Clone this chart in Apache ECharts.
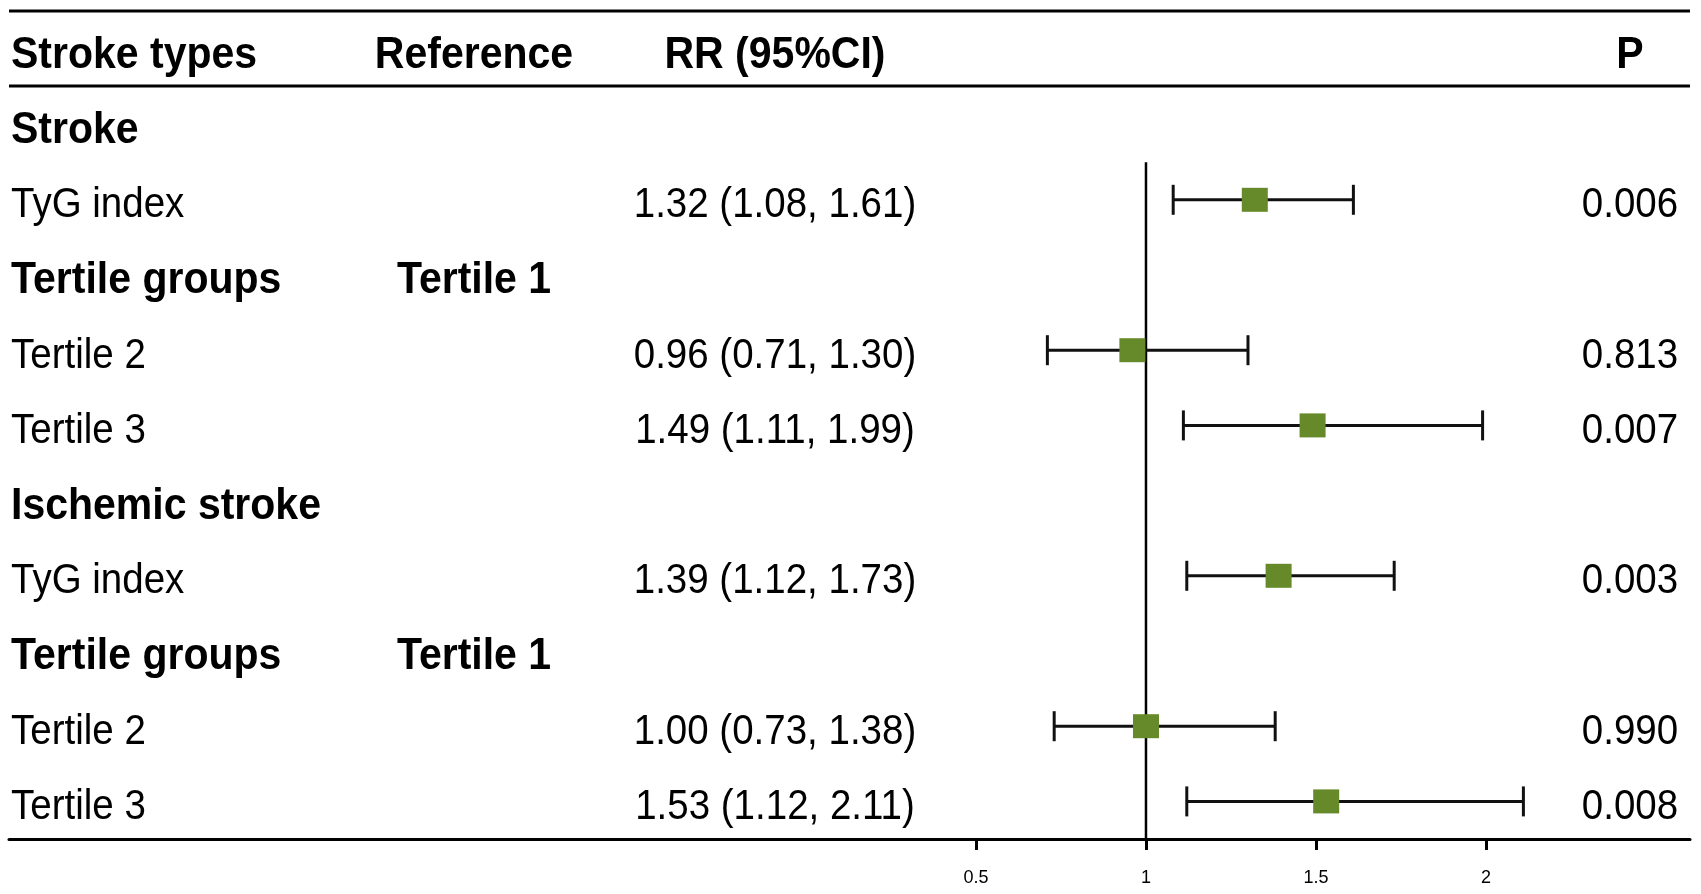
<!DOCTYPE html>
<html>
<head>
<meta charset="utf-8">
<script src="https://cdn.jsdelivr.net/npm/echarts@6/dist/echarts.min.js"></script>
<style>
  html, body { margin: 0; padding: 0; background: #fff; }
  #main { width: 1701px; height: 894px; }
</style>
</head>
<body>
<div id="main"></div>
<script>
// table columns
var headers = ['Stroke types', 'Reference', 'RR (95%CI)', 'P'];
var labels = ['Stroke', 'TyG index', 'Tertile groups', 'Tertile 2', 'Tertile 3',
              'Ischemic stroke', 'TyG index', 'Tertile groups', 'Tertile 2', 'Tertile 3'];
var boldRows = [0, 2, 5, 7];
var reference = ['', '', 'Tertile 1', '', '', '', '', 'Tertile 1', '', ''];
var rr    = [null, 1.32, null, 0.96, 1.49, null, 1.39, null, 1.00, 1.53];
var lower = [null, 1.08, null, 0.71, 1.11, null, 1.12, null, 0.73, 1.12];
var upper = [null, 1.61, null, 1.30, 1.99, null, 1.73, null, 1.38, 2.11];
var pvals = ['', '0.006', '', '0.813', '0.007', '', '0.003', '', '0.990', '0.008'];
var tickValues = [0.5, 1, 1.5, 2];
var refValue = 1;

var FONT = 'Liberation Sans, Arial, sans-serif';
var colX = [11, 474, 775, 1630];
var colAlign = ['left', 'center', 'center', 'center'];

function rrText(i) {
    if (rr[i] == null) return '';
    return rr[i].toFixed(2) + ' (' + lower[i].toFixed(2) + ', ' + upper[i].toFixed(2) + ')';
}

function textEl(x, y, str, bold, align) {
    // the source figure's text is a little taller than plain Arial
    return {
        type: 'text', x: x, y: y + 6, scaleY: 1.08, silent: true,
        style: {
            text: str, fill: '#000',
            fontFamily: FONT,
            fontSize: bold ? 41 : 38.5,
            fontWeight: bold ? 'bold' : 'normal',
            align: align, verticalAlign: 'middle'
        }
    };
}

function rowTexts(cells, y, bold) {
    var children = [];
    for (var c = 0; c < cells.length; c++) {
        if (!cells[c]) continue;
        children.push(textEl(colX[c], y, cells[c], bold, colAlign[c]));
    }
    return children;
}

var pointData = [];
var ciData = [];
var rowData = [];
for (var i = 0; i < labels.length; i++) {
    rowData.push([0, i]);
    if (rr[i] != null) {
        pointData.push([rr[i], i]);
        ciData.push([lower[i], upper[i], i]);
    }
}

var chart = echarts.init(document.getElementById('main'));

var option = {
    backgroundColor: '#fff',
    animation: false,
    grid: { left: 9, right: 11, top: 87, height: 752 },
    xAxis: {
        type: 'value',
        min: -2.344,
        max: 2.6,
        splitLine: { show: false },
        axisLine: { show: true, onZero: false, lineStyle: { color: '#000', width: 3 } },
        axisTick: { show: true, customValues: tickValues, length: 11, lineStyle: { color: '#000', width: 3 } },
        axisLabel: {
            customValues: tickValues, margin: 30,
            color: '#000', fontSize: 18, fontFamily: FONT,
            formatter: function (v) { return String(v); }
        }
    },
    yAxis: {
        type: 'value', inverse: true, min: -0.5, max: 9.5,
        show: false
    },
    graphic: [
        { type: 'line', shape: { x1: 9, y1: 11, x2: 1690, y2: 11 }, style: { stroke: '#000', lineWidth: 3 } },
        { type: 'line', shape: { x1: 9, y1: 86, x2: 1690, y2: 86 }, style: { stroke: '#000', lineWidth: 3 } }
    ],
    series: [
        {
            // header row, one band above the first row
            type: 'custom',
            data: [[0, -1]],
            renderItem: function (params, api) {
                var y = api.coord([0, api.value(1)])[1];
                return { type: 'group', children: rowTexts(headers, y, true) };
            }
        },
        {
            type: 'custom',
            data: rowData,
            renderItem: function (params, api) {
                var i = api.value(1);
                var y = api.coord([0, i])[1];
                var bold = boldRows.indexOf(i) >= 0;
                var cells = [labels[i], reference[i], rrText(i), pvals[i]];
                return { type: 'group', children: rowTexts(cells, y, bold) };
            }
        },
        {
            // reference line at RR = 1
            type: 'line',
            data: [[refValue, 0.5], [refValue, 9.5]],
            symbol: 'none',
            lineStyle: { color: '#000', width: 2.5 },
            z: 3
        },
        {
            // confidence intervals
            type: 'custom',
            data: ciData,
            z: 4,
            renderItem: function (params, api) {
                var p1 = api.coord([api.value(0), api.value(2)]);
                var p2 = api.coord([api.value(1), api.value(2)]);
                var h = 15;
                var st = { stroke: '#111', lineWidth: 3 };
                return {
                    type: 'group',
                    children: [
                        { type: 'line', shape: { x1: p1[0], y1: p1[1], x2: p2[0], y2: p2[1] }, style: st },
                        { type: 'line', shape: { x1: p1[0], y1: p1[1] - h, x2: p1[0], y2: p1[1] + h }, style: st },
                        { type: 'line', shape: { x1: p2[0], y1: p2[1] - h, x2: p2[0], y2: p2[1] + h }, style: st }
                    ]
                };
            }
        },
        {
            type: 'scatter',
            data: pointData,
            symbol: 'rect',
            symbolSize: [26, 24],
            itemStyle: { color: '#66892a', opacity: 1 },
            z: 5
        }
    ]
};

chart.setOption(option);
</script>
</body>
</html>
